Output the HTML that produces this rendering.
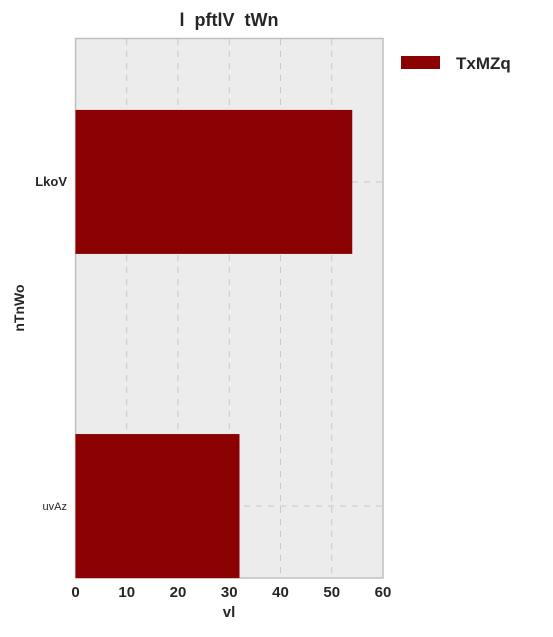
<!DOCTYPE html>
<html><head><meta charset="utf-8"><style>
body{margin:0;background:#fff;font-family:"Liberation Sans",sans-serif;}
svg text{font-family:"Liberation Sans",sans-serif;}
</style></head><body>
<svg id="chart" width="553" height="632">
<rect x="75.5" y="38.5" width="307.5" height="539.5" fill="#ececec" stroke="#bfbfbf" stroke-width="1.5"/>
<g id="grid"></g><g id="bars"></g><g id="ticks"></g>
<text x="229" y="26" text-anchor="middle" font-size="18" font-weight="bold" fill="#262626" style="white-space:pre">l  pftlV  tWn</text>
<text x="229" y="617" text-anchor="middle" font-size="15" font-weight="bold" fill="#262626">vl</text>
<text x="24" y="308" text-anchor="middle" font-size="14" font-weight="bold" fill="#262626" transform="rotate(-90 24 308)">nTnWo</text>
<g>
<rect x="401" y="56" width="39" height="13" fill="#8b0000"/>
<text x="456" y="69" font-size="17" font-weight="bold" fill="#262626">TxMZq</text>
</g>
</svg>
<script>
const categories = ["uvAz", "LkoV"];
const values = [32, 54];
const xTicks = [0, 10, 20, 30, 40, 50, 60];
const NS = "http://www.w3.org/2000/svg";
const x = v => 75.5 + v * (383 - 75.5) / 60;
const y = i => 578 - (i + 0.222) * (540 / 1.666);
const bw = 144;
function mk(tag, attrs, parent) {
  const e = document.createElementNS(NS, tag);
  for (const k in attrs) e.setAttribute(k, attrs[k]);
  document.getElementById(parent).appendChild(e);
  return e;
}
xTicks.forEach(t => {
  if (t > 0 && t < 60) {
    const g = mk("line", {x1: x(t), x2: x(t), y1: 39, y2: 577, stroke: "#c8c8c8", "stroke-dasharray": "6,6"}, "grid");
    
    
  }
  const tx = mk("text", {x: x(t), y: 597, "text-anchor": "middle", "font-size": 15, "font-weight": "bold", fill: "#262626"}, "ticks");
  tx.textContent = t;
  
  
});
categories.forEach((c, i) => {
  const gl = mk("line", {x1: 76, x2: 382, y1: y(i), y2: y(i), stroke: "#c8c8c8", "stroke-dasharray": "6,6"}, "grid");
  
  
  const b = mk("rect", {x: x(0), y: y(i) - bw / 2, width: x(values[i]) - x(0), height: bw, fill: "#8b0000"}, "bars");
  
  
  const lb = mk("text", {x: 67, y: y(i) + 4, "text-anchor": "end", "font-size": i === 0 ? 11 : 13, "font-weight": i === 0 ? "normal" : "bold", fill: "#262626"}, "ticks");
  lb.textContent = c;
  
  
});
</script>
</body></html>
